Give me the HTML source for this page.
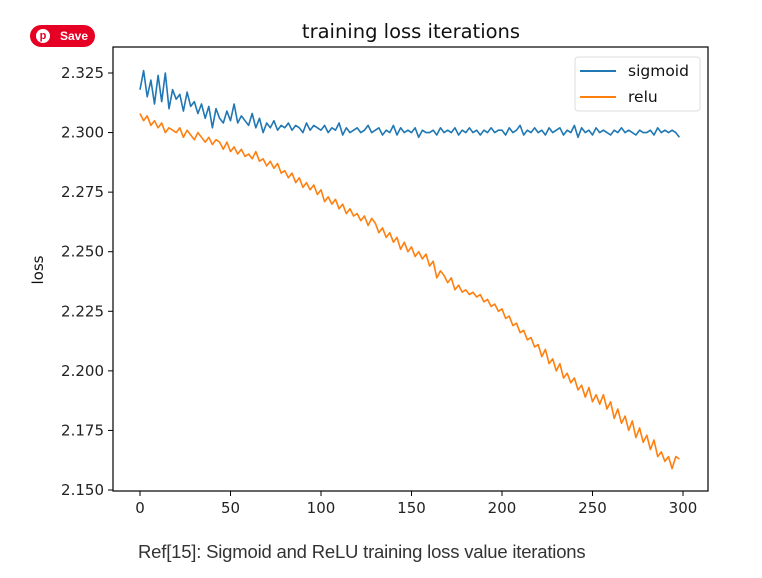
<!DOCTYPE html>
<html><head><meta charset="utf-8">
<style>
html,body{margin:0;padding:0;background:#fff;width:762px;height:578px;overflow:hidden}
#root{position:relative;width:762px;height:578px}
svg text{font-family:"DejaVu Sans","Liberation Sans",sans-serif}
.save{position:absolute;left:30px;top:25px;width:65px;height:22px;background:#e60023;border-radius:11px;color:#fff;font:bold 12px "Liberation Sans",sans-serif;line-height:22px}
.save span{position:absolute;left:30px}
.pin{position:absolute;left:6px;top:4px;width:14px;height:14px;border-radius:50%;background:#fff;color:#e60023;font:bold 11px "Liberation Sans",sans-serif;line-height:14px;text-align:center}
.cap{position:absolute;left:138px;top:541px;font:18.5px "Liberation Sans",sans-serif;color:#333;letter-spacing:-0.2px}
</style></head>
<body><div id="root">
<div class="save"><div class="pin">p</div><span>Save</span></div>
<svg id="chart" width="762" height="578" style="position:absolute;left:0;top:0"></svg>
<div class="cap">Ref[15]: Sigmoid and ReLU training loss value iterations</div>
</div>
<script>
const xTicks=[0,50,100,150,200,250,300];
const yTicks=[2.150,2.175,2.200,2.225,2.250,2.275,2.300,2.325];
const iterStep=2;
const sigmoid=[2.318,2.326,2.315,2.322,2.312,2.324,2.313,2.325,2.310,2.318,
2.314,2.316,2.309,2.317,2.311,2.313,2.308,2.312,2.306,2.311,
2.302,2.310,2.306,2.304,2.309,2.305,2.312,2.304,2.307,2.305,
2.303,2.308,2.302,2.306,2.300,2.304,2.302,2.305,2.301,2.303,
2.302,2.304,2.301,2.303,2.302,2.300,2.304,2.301,2.303,2.302,
2.301,2.303,2.300,2.302,2.301,2.304,2.299,2.302,2.300,2.301,
2.302,2.300,2.301,2.303,2.300,2.301,2.302,2.299,2.301,2.300,
2.303,2.299,2.302,2.300,2.301,2.300,2.302,2.298,2.301,2.300,
2.300,2.301,2.299,2.302,2.300,2.301,2.300,2.302,2.299,2.301,
2.300,2.302,2.300,2.301,2.299,2.301,2.300,2.302,2.300,2.301,
2.301,2.299,2.302,2.300,2.301,2.303,2.299,2.301,2.300,2.302,
2.300,2.301,2.299,2.302,2.300,2.301,2.302,2.299,2.301,2.300,
2.303,2.298,2.302,2.300,2.301,2.299,2.302,2.300,2.301,2.300,
2.299,2.301,2.300,2.302,2.300,2.301,2.300,2.299,2.301,2.300,
2.300,2.301,2.299,2.302,2.300,2.301,2.300,2.301,2.300,2.298];
const relu=[2.308,2.305,2.307,2.303,2.305,2.302,2.304,2.300,2.302,2.301,
2.300,2.302,2.298,2.301,2.299,2.297,2.300,2.298,2.296,2.298,
2.295,2.297,2.296,2.293,2.296,2.292,2.294,2.291,2.293,2.290,
2.291,2.289,2.292,2.288,2.289,2.286,2.288,2.285,2.287,2.283,
2.284,2.281,2.283,2.279,2.281,2.277,2.279,2.276,2.278,2.274,
2.276,2.271,2.273,2.270,2.272,2.268,2.270,2.266,2.268,2.265,
2.266,2.263,2.265,2.261,2.264,2.262,2.258,2.260,2.256,2.258,
2.254,2.256,2.251,2.254,2.250,2.252,2.248,2.250,2.247,2.249,
2.244,2.246,2.239,2.242,2.240,2.237,2.239,2.234,2.236,2.233,
2.234,2.232,2.233,2.231,2.232,2.229,2.230,2.227,2.228,2.225,
2.226,2.222,2.223,2.219,2.220,2.216,2.217,2.213,2.214,2.210,
2.211,2.206,2.209,2.203,2.205,2.200,2.203,2.197,2.199,2.195,
2.197,2.192,2.194,2.189,2.193,2.187,2.190,2.186,2.190,2.184,
2.187,2.180,2.184,2.178,2.181,2.175,2.179,2.172,2.176,2.170,
2.173,2.167,2.171,2.164,2.166,2.162,2.164,2.159,2.164,2.163];

const svg=document.getElementById('chart');
const NS='http://www.w3.org/2000/svg';
const L=113,R=708,T=47,B=491;
const xs=v=>140+(v-0)*(683-140)/300;
const ys=v=>490-(v-2.150)*(490-73)/0.175;
function mk(tag,attrs,parent){const e=document.createElementNS(NS,tag);for(const k in attrs)e.setAttribute(k,attrs[k]);(parent||svg).appendChild(e);return e;}

const title=mk('text',{x:411,y:38,'text-anchor':'middle','font-size':19.5,fill:'#111'});
title.textContent='training loss iterations';



const yl=mk('text',{x:0,y:0,'text-anchor':'middle','font-size':15,fill:'#111',transform:'translate(43,270) rotate(-90)'});
yl.textContent='loss';



xTicks.forEach(v=>{
  const x=xs(v);
  const t=mk('line',{x1:x,x2:x,y1:B,y2:B+5,stroke:'#000','stroke-width':1});
  
  
  const l=mk('text',{x:x,y:B+22,'text-anchor':'middle','font-size':15,fill:'#222'});
  l.textContent=v;
  
  
});
yTicks.forEach(v=>{
  const y=ys(v);
  const t=mk('line',{x1:L-5,x2:L,y1:y,y2:y,stroke:'#000','stroke-width':1});
  
  
  const l=mk('text',{x:L-9,y:y+5,'text-anchor':'end','font-size':15,fill:'#222'});
  l.textContent=v.toFixed(3);
  
  
});

function series(vals,color,name){
  const d=vals.map((v,i)=>(i?'L':'M')+xs(i*iterStep).toFixed(1)+','+ys(v).toFixed(1)).join('');
  const p=mk('path',{d:d,fill:'none',stroke:color,'stroke-width':1.6,'stroke-linejoin':'round'});
  
  
}
series(sigmoid,'#1f77b4','sigmoid-line');
series(relu,'#ff7f0e','relu-line');

const frame=mk('rect',{x:L,y:T,width:R-L,height:B-T,fill:'none',stroke:'#000','stroke-width':1.2});



const lg=mk('g',{});


mk('rect',{x:575,y:57,width:125,height:54,rx:3,fill:'#fff',stroke:'#ddd'},lg);
[['sigmoid','#1f77b4',71],['relu','#ff7f0e',97]].forEach(([n,c,y])=>{
  const ln=mk('line',{x1:580,x2:616,y1:y,y2:y,stroke:c,'stroke-width':2},lg);
  
  
  const t=mk('text',{x:628,y:y+5,'font-size':15.5,fill:'#111'},lg);
  t.textContent=n;
  
  
});
</script>
</body></html>
